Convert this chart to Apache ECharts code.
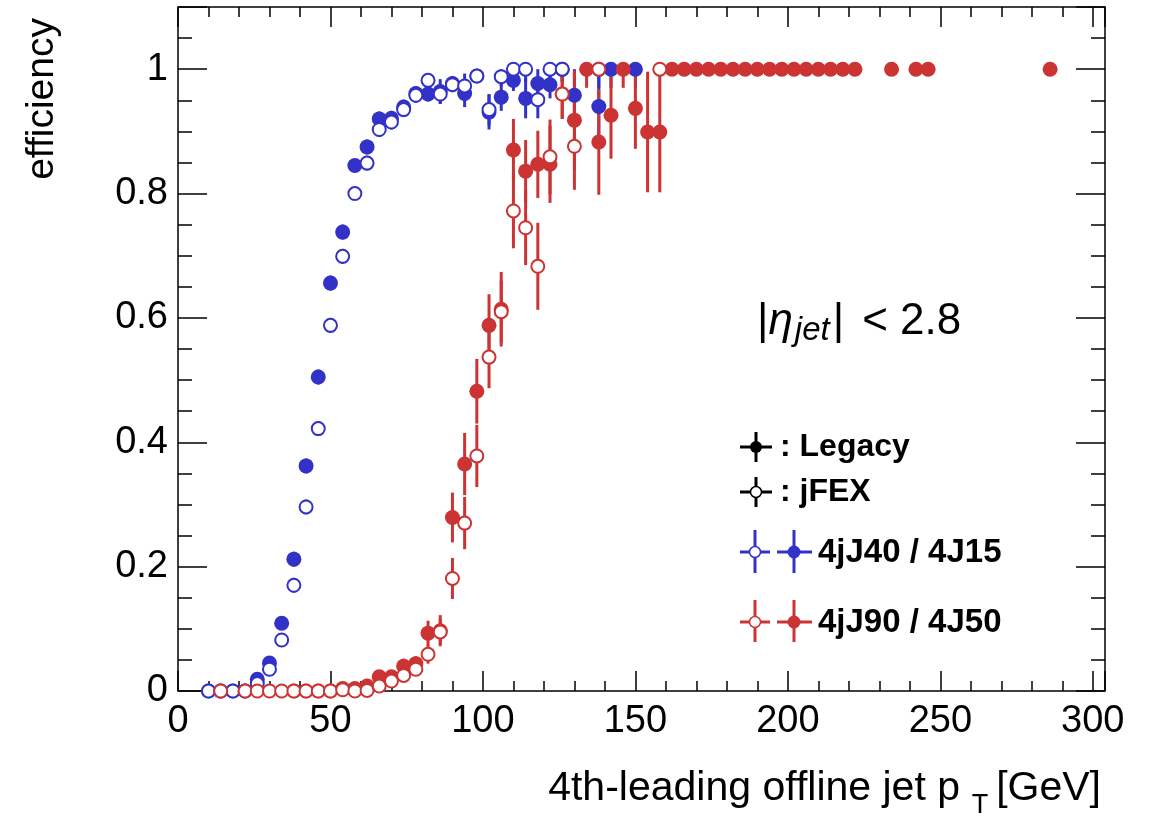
<!DOCTYPE html>
<html>
<head>
<meta charset="utf-8">
<title>jet trigger efficiency</title>
<script src="https://cdn.jsdelivr.net/npm/echarts@6/dist/echarts.min.js"></script>
<style>
  html, body { margin: 0; padding: 0; background: #fff; }
  #chart { width: 1151px; height: 816px; }
</style>
</head>
<body>
<div id="chart"></div>
<script>
// 4jJ40 / 4J15, Legacy (filled)
const legacyJ15Pt = [10, 14, 18, 22, 26, 30, 34, 38, 42, 46, 50, 54, 58, 62, 66, 70, 74, 78, 82, 86, 90, 94, 98, 102, 106, 110, 114, 118, 122, 126, 130, 138, 142, 150];
const legacyJ15Eff = [0, 0, 0, 0, 0.019, 0.045, 0.109, 0.212, 0.362, 0.505, 0.656, 0.738, 0.845, 0.875, 0.920, 0.921, 0.939, 0.961, 0.960, 0.964, 0.977, 0.961, 0.989, 0.931, 0.955, 0.982, 0.953, 0.977, 0.975, 1.0, 0.958, 0.940, 1.0, 1.0];
const legacyJ15Err = [0, 0, 0, 0, 0.006, 0.008, 0.01, 0.012, 0.012, 0.012, 0.012, 0.012, 0.01, 0.012, 0.012, 0.012, 0.012, 0.012, 0.012, 0.02, 0.012, 0.022, 0.01, 0.028, 0.022, 0.017, 0.032, 0.024, 0.022, 0.02, 0.045, 0.06, 0.03, 0.03];

// 4jJ40 / 4J15, jFEX (open)
const jfexJ40Pt = [10, 14, 18, 22, 26, 30, 34, 38, 42, 46, 50, 54, 58, 62, 66, 70, 74, 78, 82, 86, 90, 94, 98, 102, 106, 110, 114, 118, 122, 126, 138];
const jfexJ40Eff = [0, 0, 0, 0, 0.012, 0.035, 0.082, 0.170, 0.296, 0.422, 0.588, 0.699, 0.800, 0.849, 0.903, 0.915, 0.935, 0.958, 0.982, 0.960, 0.975, 0.973, 0.989, 0.935, 0.988, 1.0, 1.0, 0.951, 1.0, 1.0, 1.0];
const jfexJ40Err = [0, 0, 0, 0, 0.005, 0.008, 0.01, 0.012, 0.012, 0.012, 0.012, 0.012, 0.01, 0.012, 0.012, 0.012, 0.012, 0.012, 0.01, 0.015, 0.012, 0.02, 0.01, 0.025, 0.015, 0.015, 0.02, 0.03, 0.02, 0.02, 0.03];

// 4jJ90 / 4J50, Legacy (filled)
const legacyJ50Pt = [38, 42, 46, 50, 54, 58, 62, 66, 70, 74, 78, 82, 86, 90, 94, 98, 102, 106, 110, 114, 118, 122, 126, 130, 134, 138, 142, 146, 150, 154, 158,
  162, 166, 170, 174, 178, 182, 186, 190, 194, 198, 202, 206, 210, 214, 218, 222, 234, 242, 246, 286];
const legacyJ50Eff = [0, 0, 0, 0, 0.004, 0.004, 0.008, 0.023, 0.023, 0.040, 0.044, 0.093, 0.097, 0.279, 0.365, 0.482, 0.588, 0.614, 0.870, 0.836, 0.847, 0.847, 0.960, 0.918, 1.0, 0.883, 0.926, 1.0, 0.937, 0.899, 0.899,
  1, 1, 1, 1, 1, 1, 1, 1, 1, 1, 1, 1, 1, 1, 1, 1, 1, 1, 1, 1];
const legacyJ50Err = [0, 0, 0, 0, 0.003, 0.003, 0.005, 0.01, 0.01, 0.012, 0.012, 0.02, 0.025, 0.04, 0.05, 0.052, 0.05, 0.06, 0.05, 0.05, 0.054, 0.062, 0.04, 0.08, 0.03, 0.085, 0.07, 0.03, 0.065, 0.097, 0.097,
  0, 0, 0, 0, 0, 0, 0, 0, 0, 0, 0, 0, 0, 0, 0, 0, 0, 0, 0, 0];

// 4jJ90 / 4J50, jFEX (open)
const jfexJ90Pt = [14, 22, 26, 30, 34, 38, 42, 46, 50, 54, 58, 62, 66, 70, 74, 78, 82, 86, 90, 94, 98, 102, 106, 110, 114, 118, 122, 126, 130, 138, 158];
const jfexJ90Eff = [0, 0, 0, 0, 0, 0, 0, 0, 0, 0.002, 0, 0.001, 0.008, 0.016, 0.025, 0.035, 0.059, 0.095, 0.181, 0.270, 0.378, 0.537, 0.610, 0.772, 0.745, 0.683, 0.859, 0.960, 0.876, 1.0, 1.0];
const jfexJ90Err = [0, 0, 0, 0, 0, 0, 0, 0, 0, 0.002, 0, 0.002, 0.005, 0.006, 0.008, 0.01, 0.015, 0.02, 0.033, 0.042, 0.05, 0.05, 0.05, 0.06, 0.06, 0.07, 0.06, 0.04, 0.07, 0, 0];

const xTicks = [0, 50, 100, 150, 200, 250, 300];
const yTicks = [0, 0.2, 0.4, 0.6, 0.8, 1];

const BLUE = '#3232c8';
const RED = '#cc3333';
const FONT = '"Liberation Sans", Arial, Helvetica, sans-serif';

const chart = echarts.init(document.getElementById('chart'), null, { renderer: 'canvas' });

const points = (pt, eff) => pt.map((x, i) => [x, eff[i]]);
const bars = (pt, eff, err) => pt.map((x, i) => [x, Math.max(0, eff[i] - err[i]), Math.min(1, eff[i] + err[i])]);

// vertical error bars, no caps
const errorSeries = (pt, eff, err, color) => ({
  type: 'custom',
  xAxisIndex: 0,
  yAxisIndex: 0,
  z: 2,
  silent: true,
  data: bars(pt, eff, err),
  renderItem: (params, api) => {
    const lo = api.coord([api.value(0), api.value(1)]);
    const hi = api.coord([api.value(0), api.value(2)]);
    if (Math.abs(hi[1] - lo[1]) < 0.5) return null;
    return {
      type: 'line',
      shape: { x1: lo[0], y1: lo[1], x2: hi[0], y2: hi[1] },
      style: { stroke: color, lineWidth: 3 }
    };
  }
});

const markerSeries = (name, pt, eff, color, open, z) => ({
  name: name,
  type: 'scatter',
  xAxisIndex: 0,
  yAxisIndex: 0,
  z: z,
  symbol: 'circle',
  symbolSize: open ? 13 : 15,
  itemStyle: open ? { color: '#fff', borderColor: color, borderWidth: 2, opacity: 1 } : { color: color, opacity: 1 },
  data: points(pt, eff),
  silent: true
});

const onTick = (v, step) => Math.abs(v / step - Math.round(v / step)) < 1e-6;

// ticks inside on all four sides, major + minor as separate axes
const tickStyle = { color: '#000', width: 1.5 };
const xBase = { type: 'value', min: 0, max: 304, axisLine: { show: false, onZero: false }, splitLine: { show: false } };
const yBase = { type: 'value', min: 0, max: 1.1, axisLine: { show: false, onZero: false }, splitLine: { show: false } };

const option = {
  animation: false,
  backgroundColor: '#fff',
  grid: { left: 178, right: 46, top: 7, bottom: 125, show: true, borderColor: '#000', borderWidth: 1.5 },
  xAxis: [
    Object.assign({}, xBase, {
      position: 'bottom', interval: 50,
      axisTick: { inside: true, length: 20, lineStyle: tickStyle },
      axisLabel: {
        margin: 12, fontSize: 38, color: '#000', fontFamily: FONT,
        formatter: v => (xTicks.includes(Math.round(v)) && onTick(v, 50)) ? String(Math.round(v)) : ''
      }
    }),
    Object.assign({}, xBase, {
      position: 'bottom', interval: 10,
      axisTick: { inside: true, length: 10, lineStyle: tickStyle },
      axisLabel: { show: false }
    }),
    Object.assign({}, xBase, {
      position: 'top', interval: 50,
      axisTick: { inside: true, length: 20, lineStyle: tickStyle },
      axisLabel: { show: false }
    }),
    Object.assign({}, xBase, {
      position: 'top', interval: 10,
      axisTick: { inside: true, length: 10, lineStyle: tickStyle },
      axisLabel: { show: false }
    })
  ],
  yAxis: [
    Object.assign({}, yBase, {
      position: 'left', interval: 0.2,
      axisTick: { inside: true, length: 29, lineStyle: tickStyle },
      axisLabel: {
        margin: 10, fontSize: 38, color: '#000', fontFamily: FONT,
        formatter: v => {
          const t = yTicks.find(y => Math.abs(y - v) < 1e-6);
          return t === undefined ? '' : String(t);
        }
      }
    }),
    Object.assign({}, yBase, {
      position: 'left', interval: 0.05,
      axisTick: { inside: true, length: 14, lineStyle: tickStyle },
      axisLabel: { show: false }
    }),
    Object.assign({}, yBase, {
      position: 'right', interval: 0.2,
      axisTick: { inside: true, length: 29, lineStyle: tickStyle },
      axisLabel: { show: false }
    }),
    Object.assign({}, yBase, {
      position: 'right', interval: 0.05,
      axisTick: { inside: true, length: 14, lineStyle: tickStyle },
      axisLabel: { show: false }
    })
  ],
  series: [
    errorSeries(legacyJ15Pt, legacyJ15Eff, legacyJ15Err, BLUE),
    errorSeries(jfexJ40Pt, jfexJ40Eff, jfexJ40Err, BLUE),
    errorSeries(legacyJ50Pt, legacyJ50Eff, legacyJ50Err, RED),
    errorSeries(jfexJ90Pt, jfexJ90Eff, jfexJ90Err, RED),
    markerSeries('Legacy 4J15', legacyJ15Pt, legacyJ15Eff, BLUE, false, 3),
    markerSeries('jFEX 4jJ40', jfexJ40Pt, jfexJ40Eff, BLUE, true, 4),
    markerSeries('Legacy 4J50', legacyJ50Pt, legacyJ50Eff, RED, false, 5),
    markerSeries('jFEX 4jJ90', jfexJ90Pt, jfexJ90Eff, RED, true, 6)
  ],
  graphic: [
    // axis titles
    {
      type: 'text', x: 42, y: 18, rotation: Math.PI / 2,
      style: { text: 'efficiency', fontSize: 39, fontFamily: FONT, fill: '#000', align: 'right', verticalAlign: 'middle' }
    },
    {
      type: 'text', x: 960, y: 789,
      style: { text: '4th-leading offline jet p', fontSize: 41, fontFamily: FONT, fill: '#000', align: 'right', verticalAlign: 'middle' }
    },
    {
      type: 'text', x: 980, y: 806,
      style: { text: 'T', fontSize: 27, fontFamily: FONT, fill: '#000', align: 'center', verticalAlign: 'middle' }
    },
    {
      type: 'text', x: 1101, y: 789,
      style: { text: '[GeV]', fontSize: 41, fontFamily: FONT, fill: '#000', align: 'right', verticalAlign: 'middle' }
    },
    // eta cut label
    {
      type: 'text', x: 757, y: 322,
      style: {
        text: '|{it|η}{sub|jet}|{gap| }< 2.8', fontSize: 44, fontFamily: FONT, fill: '#000', align: 'left', verticalAlign: 'middle',
        rich: {
          it: { fontSize: 44, fontStyle: 'italic', fontFamily: FONT },
          sub: { fontSize: 33, fontStyle: 'italic', fontFamily: FONT, verticalAlign: 'bottom', padding: [17, 3, 0, 2] },
          gap: { fontSize: 44, fontFamily: FONT, width: 18 }
        }
      }
    },
    // legend: Legacy
    { type: 'line', shape: { x1: 740, y1: 447, x2: 772, y2: 447 }, style: { stroke: '#000', lineWidth: 3 } },
    { type: 'line', shape: { x1: 756, y1: 432, x2: 756, y2: 462 }, style: { stroke: '#000', lineWidth: 3 } },
    { type: 'circle', shape: { cx: 756, cy: 447, r: 6 }, style: { fill: '#000' } },
    { type: 'text', x: 780, y: 447, style: { text: ': Legacy', fontSize: 32, fontWeight: 'bold', fontFamily: FONT, fill: '#000', verticalAlign: 'middle' } },
    // legend: jFEX
    { type: 'line', shape: { x1: 740, y1: 492, x2: 772, y2: 492 }, style: { stroke: '#000', lineWidth: 3 } },
    { type: 'line', shape: { x1: 756, y1: 477, x2: 756, y2: 507 }, style: { stroke: '#000', lineWidth: 3 } },
    { type: 'circle', shape: { cx: 756, cy: 492, r: 5.5 }, style: { fill: '#fff', stroke: '#000', lineWidth: 1.5 } },
    { type: 'text', x: 780, y: 492, style: { text: ': jFEX', fontSize: 32, fontWeight: 'bold', fontFamily: FONT, fill: '#000', verticalAlign: 'middle' } },
    // legend: 4jJ40 / 4J15
    { type: 'line', shape: { x1: 740, y1: 552, x2: 770, y2: 552 }, style: { stroke: BLUE, lineWidth: 3 } },
    { type: 'line', shape: { x1: 755, y1: 530, x2: 755, y2: 573 }, style: { stroke: BLUE, lineWidth: 3 } },
    { type: 'circle', shape: { cx: 755, cy: 552, r: 5.5 }, style: { fill: '#fff', stroke: BLUE, lineWidth: 1.5 } },
    { type: 'line', shape: { x1: 777, y1: 552, x2: 812, y2: 552 }, style: { stroke: BLUE, lineWidth: 3 } },
    { type: 'line', shape: { x1: 794, y1: 530, x2: 794, y2: 573 }, style: { stroke: BLUE, lineWidth: 3 } },
    { type: 'circle', shape: { cx: 794, cy: 552, r: 6.5 }, style: { fill: BLUE } },
    { type: 'text', x: 818, y: 553, style: { text: '4jJ40 / 4J15', fontSize: 33, fontWeight: 'bold', fontFamily: FONT, fill: '#000', verticalAlign: 'middle' } },
    // legend: 4jJ90 / 4J50
    { type: 'line', shape: { x1: 740, y1: 622, x2: 770, y2: 622 }, style: { stroke: RED, lineWidth: 3 } },
    { type: 'line', shape: { x1: 755, y1: 600, x2: 755, y2: 642 }, style: { stroke: RED, lineWidth: 3 } },
    { type: 'circle', shape: { cx: 755, cy: 622, r: 5.5 }, style: { fill: '#fff', stroke: RED, lineWidth: 1.5 } },
    { type: 'line', shape: { x1: 777, y1: 622, x2: 812, y2: 622 }, style: { stroke: RED, lineWidth: 3 } },
    { type: 'line', shape: { x1: 794, y1: 600, x2: 794, y2: 642 }, style: { stroke: RED, lineWidth: 3 } },
    { type: 'circle', shape: { cx: 794, cy: 622, r: 6.5 }, style: { fill: RED } },
    { type: 'text', x: 818, y: 623, style: { text: '4jJ90 / 4J50', fontSize: 33, fontWeight: 'bold', fontFamily: FONT, fill: '#000', verticalAlign: 'middle' } }
  ]
};

chart.setOption(option);
</script>
</body>
</html>
